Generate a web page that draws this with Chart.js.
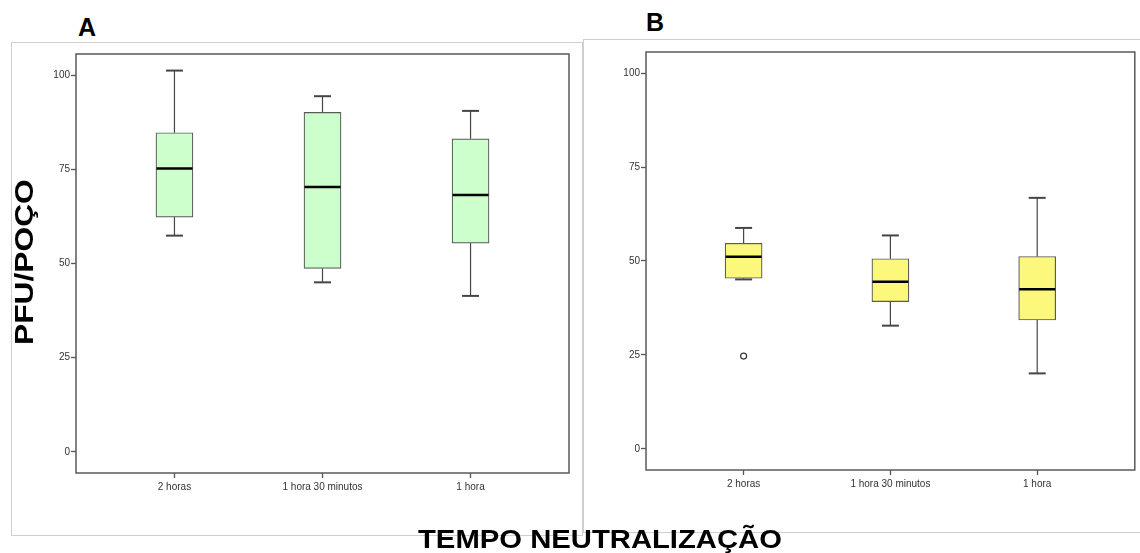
<!DOCTYPE html>
<html><head><meta charset="utf-8">
<script src="https://cdn.jsdelivr.net/npm/chart.js@4"></script>
<style>
body{margin:0;background:#fff;width:1140px;height:553px;overflow:hidden;position:relative;font-family:"Liberation Sans",Arial,sans-serif;}
.frame{position:absolute;border:1px solid #cfcfcf;box-sizing:border-box;}
canvas{position:absolute;}
.lbl{position:absolute;font-weight:bold;color:#000;white-space:nowrap;line-height:1;font-family:"Liberation Sans",Arial,sans-serif;}
</style></head><body>
<div class="frame" style="left:11px;top:42px;width:572px;height:494px;"></div>
<div class="frame" style="left:583px;top:39px;width:562px;height:494px;"></div>
<canvas id="cA" width="572" height="494" style="left:11px;top:42px"></canvas>
<canvas id="cB" width="557" height="493" style="left:583px;top:39px"></canvas>
<div class="lbl" style="left:78px;top:15px;font-size:25px">A</div>
<div class="lbl" style="left:646px;top:10px;font-size:25px">B</div>
<div class="lbl" style="left:12px;top:345px;font-size:25px;transform-origin:0 0;transform:rotate(-90deg) scaleX(1.27)">PFU/POÇO</div>
<div class="lbl" style="left:418px;top:527px;font-size:25px;transform-origin:0 0;transform:scaleX(1.17)">TEMPO NEUTRALIZAÇÃO</div>
<script>
const categories = ['2 horas', '1 hora 30 minutos', '1 hora'];
const yTicks = [0, 25, 50, 75, 100];

const panelA_min    = [57.4, 45.0, 41.4];
const panelA_q1     = [62.3, 48.7, 55.4];
const panelA_median = [75.2, 70.3, 68.2];
const panelA_q3     = [84.7, 90.1, 83.1];
const panelA_max    = [101.2, 94.4, 90.5];
const panelA_outliers = [[], [], []];

const panelB_min    = [45.1, 32.8, 20.1];
const panelB_q1     = [45.4, 39.2, 34.3];
const panelB_median = [51.1, 44.5, 42.5];
const panelB_q3     = [54.7, 50.6, 51.2];
const panelB_max    = [58.8, 56.8, 66.8];
const panelB_outliers = [[24.7], [], []];

const boxPlugin = {
  id: 'boxes',
  beforeDatasetsDraw(chart) {
    const s = chart.options.plugins.boxes;
    const {ctx, scales: {x, y}} = chart;
    ctx.save();
    ctx.strokeStyle = '#454545';
    for (let i = 0; i < s.min.length; i++) {
      const cx = x.getPixelForValue(i + 1);
      const pairs = [[s.q3[i], s.max[i]], [s.q1[i], s.min[i]]];
      for (const [a, b] of pairs) {
        ctx.lineWidth = 1.2;
        ctx.beginPath();
        ctx.moveTo(cx, y.getPixelForValue(a));
        ctx.lineTo(cx, y.getPixelForValue(b));
        ctx.stroke();
        ctx.lineWidth = 2;
        ctx.beginPath();
        ctx.moveTo(cx - 8.5, y.getPixelForValue(b));
        ctx.lineTo(cx + 8.5, y.getPixelForValue(b));
        ctx.stroke();
      }
    }
    ctx.restore();
  },
  afterDatasetsDraw(chart) {
    const s = chart.options.plugins.boxes;
    const {ctx, chartArea: a, scales: {x, y}} = chart;
    ctx.save();
    ctx.strokeStyle = '#000';
    ctx.lineWidth = 2.5;
    for (let i = 0; i < s.median.length; i++) {
      const cx = x.getPixelForValue(i + 1);
      const py = y.getPixelForValue(s.median[i]);
      ctx.beginPath();
      ctx.moveTo(cx - 18, py);
      ctx.lineTo(cx + 18, py);
      ctx.stroke();
    }
    ctx.strokeStyle = '#5a5a5a';
    ctx.lineWidth = 1.5;
    ctx.strokeRect(a.left, a.top, a.right - a.left, a.bottom - a.top);
    ctx.restore();
  }
};

function makePanel(id, stats, fill, pad, xAxisH, yAxisW) {
  const boxData = categories.map((c, i) => ({x: i + 1, y: [stats.q1[i], stats.q3[i]]}));
  const outData = [];
  stats.outliers.forEach((arr, i) => arr.forEach(v => outData.push({x: i + 1, y: v})));
  new Chart(document.getElementById(id), {
    type: 'bar',
    data: {
      datasets: [
        {type: 'bar', data: boxData, backgroundColor: fill, borderColor: '#5a5a5a',
         borderWidth: 1.2, borderSkipped: false, barThickness: 37, grouped: false},
        {type: 'scatter', data: outData, pointRadius: 3, pointBorderWidth: 1.2,
         pointBackgroundColor: '#fff', pointBorderColor: '#333'}
      ]
    },
    options: {
      responsive: false, animation: false,
      layout: {padding: pad},
      plugins: {legend: {display: false}, tooltip: {enabled: false}, boxes: stats},
      scales: {
        x: {
          type: 'linear', min: 0.335, max: 3.665, offset: false,
          afterBuildTicks: sc => { sc.ticks = categories.map((c, i) => ({value: i + 1})); },
          afterFit: sc => { sc.height = xAxisH; },
          ticks: {callback: v => categories[v - 1], autoSkip: false, maxRotation: 0,
                  color: '#333', font: {family: 'Liberation Sans', size: 10}, padding: 3},
          grid: {offset: false, drawOnChartArea: false, drawTicks: true, tickLength: 5, tickColor: '#555', tickWidth: 1.3},
          border: {display: false}
        },
        y: {
          type: 'linear', min: -5.6, max: 105.6,
          afterBuildTicks: sc => { sc.ticks = yTicks.map(v => ({value: v})); },
          afterFit: sc => { sc.width = yAxisW; },
          ticks: {color: '#333', font: {family: 'Liberation Sans', size: 10}, padding: 1},
          grid: {drawOnChartArea: false, drawTicks: true, tickLength: 5, tickColor: '#555', tickWidth: 1.3},
          border: {display: false}
        }
      }
    },
    plugins: [boxPlugin]
  });
}

makePanel('cA', {min: panelA_min, q1: panelA_q1, median: panelA_median, q3: panelA_q3, max: panelA_max, outliers: panelA_outliers},
  '#ccffcc', {left: 0, top: 12, right: 14, bottom: 0}, 63, 65);
makePanel('cB', {min: panelB_min, q1: panelB_q1, median: panelB_median, q3: panelB_q3, max: panelB_max, outliers: panelB_outliers},
  '#fbf87c', {left: 0, top: 13, right: 1, bottom: 0}, 62, 63);
</script>
</body></html>
